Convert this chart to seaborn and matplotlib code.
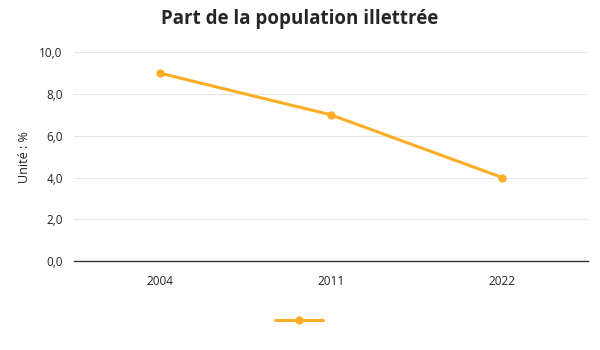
import matplotlib
matplotlib.use("Agg")
import matplotlib.pyplot as plt
import seaborn as sns
import pandas as pd
from matplotlib.ticker import FuncFormatter

years = ["2004", "2011", "2022"]
values = [9.0, 7.0, 4.0]
title = "Part de la population illettrée"
ylabel = "Unité : %"
color = "#FBAD26"

sns.set_theme(style="white")
plt.rcParams['font.family'] = ['Open Sans', 'DejaVu Sans']

df = pd.DataFrame({"annee": years, "valeur": values, "serie": [""] * len(years)})

fig = plt.figure(figsize=(6, 3.5), dpi=100)
ax = fig.add_axes([0.123, 0.254, 0.857, 0.597])
sns.lineplot(data=df, x="annee", y="valeur", color=color, marker="o",
             markersize=6, markeredgewidth=0, linewidth=2.2, ax=ax, legend=False)

ax.set_xlim(-0.5, len(years) - 0.5)
ax.set_ylim(0, 10)
ax.set_yticks([0, 2, 4, 6, 8, 10])
ax.yaxis.set_major_formatter(FuncFormatter(lambda v, p: f"{v:.1f}".replace(".", ",")))
ax.grid(axis="y", color="#e6e6e6", linewidth=0.8)
ax.set_axisbelow(True)
for s in ["top", "right", "left"]:
    ax.spines[s].set_visible(False)
ax.spines["bottom"].set_color("#333333")
ax.spines["bottom"].set_linewidth(1)
ax.tick_params(axis="both", length=0, labelsize=8.5, colors="#222222", pad=8)
ax.tick_params(axis="x", pad=10)
ax.set_xlabel("")
ax.set_ylabel(ylabel, fontsize=9, color="#222222", labelpad=6)
fig.suptitle(title, fontsize=13.5, fontweight="bold", y=0.975, x=0.5)

handle = ax.lines[0]
leg = ax.legend([handle], [""], loc="upper center", bbox_to_anchor=(0.438, -0.22),
                frameon=False, handlelength=3.2, handletextpad=0, borderpad=0)
fig.savefig("out.png", dpi=100)
